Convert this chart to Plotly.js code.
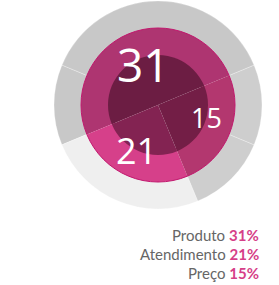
<!DOCTYPE html>
<html>
<head>
<meta charset="utf-8">
<script src="https://cdn.plot.ly/plotly-3.0.1.min.js"></script>
<style>
html,body{margin:0;padding:0;background:#fff;}
#chart{width:279px;height:285px;}
</style>
</head>
<body>
<div id="chart"></div>
<script>
// Data
var categories = ['Produto', 'Atendimento', 'Preço'];
var percents = [31, 21, 15];
// arc size of each slice as drawn in the reference (degrees)
var arcDegrees = [180, 90, 90];
var ringColors = ['#AE3571', '#D6408A', '#B3376F'];
var coreColors = ['#6C1D43', '#832352', '#731E46'];
// decorative outer gray ring (degrees, counterclockwise from the start)
var outerArcs = [135, 45, 90, 45, 45];
var outerColors = ['#C8C8C8', '#C8C8C8', '#EFEFEF', '#CECECE', '#CECECE'];

var W = 279, H = 285, cx = 158, cy = 105;
function dom(r) {
  return {x: [(cx - r) / W, (cx + r) / W], y: [(H - cy - r) / H, (H - cy + r) / H]};
}

var traces = [
  {
    type: 'pie', values: outerArcs, sort: false, direction: 'counterclockwise', rotation: -67.5,
    marker: {colors: outerColors, line: {color: 'rgba(255,255,255,0.25)', width: 1}},
    hole: 0.7, textinfo: 'none', hoverinfo: 'skip', domain: dom(104), showlegend: false
  },
  {
    type: 'pie', labels: categories, values: arcDegrees, sort: false, direction: 'counterclockwise', rotation: -112.5,
    marker: {colors: ringColors, line: {width: 0}},
    hole: 0.6, textinfo: 'none', hoverinfo: 'skip', domain: dom(77), showlegend: false
  },
  {
    type: 'pie', labels: categories, values: arcDegrees, sort: false, direction: 'counterclockwise', rotation: -112.5,
    marker: {colors: coreColors, line: {width: 0}},
    textinfo: 'none', hoverinfo: 'skip', domain: dom(50), showlegend: false
  }
];

var numPos = [[143, 64, 46], [136, 150, 36], [206, 118, 27]];
var annotations = [];
for (var i = 0; i < categories.length; i++) {
  annotations.push({
    xref: 'paper', yref: 'paper', x: numPos[i][0] / W, y: 1 - numPos[i][1] / H,
    xanchor: 'center', yanchor: 'middle', showarrow: false,
    text: String(percents[i]),
    font: {family: 'Open Sans', size: numPos[i][2], color: '#FFFFFF'}
  });
}
var legY = [235, 254, 273];
for (var j = 0; j < categories.length; j++) {
  annotations.push({
    xref: 'paper', yref: 'paper', x: 261 / W, y: 1 - legY[j] / H,
    xanchor: 'right', yanchor: 'middle', showarrow: false, align: 'right',
    text: categories[j] + ' <b><span style="color:#D63F88">' + percents[j] + '%</span></b>',
    font: {family: 'Lato', size: 15, color: '#666666'}
  });
}

var layout = {
  width: W, height: H, margin: {l: 0, r: 0, t: 0, b: 0},
  paper_bgcolor: '#FFFFFF', plot_bgcolor: '#FFFFFF',
  showlegend: false,
  annotations: annotations,
  shapes: [{
    type: 'circle', xref: 'paper', yref: 'paper',
    x0: (cx - 77) / W, x1: (cx + 77) / W, y0: (H - cy - 77) / H, y1: (H - cy + 77) / H,
    line: {color: '#C2186E', width: 1}, fillcolor: 'rgba(0,0,0,0)', layer: 'above'
  }]
};

Plotly.newPlot('chart', traces, layout, {displayModeBar: false, staticPlot: true});
</script>
</body>
</html>
